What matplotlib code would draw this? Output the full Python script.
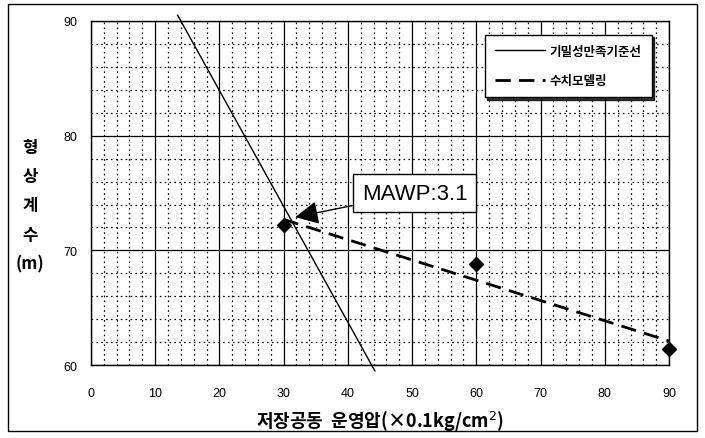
import numpy as np
import matplotlib
matplotlib.use("Agg")
import matplotlib.pyplot as plt
from matplotlib.patches import Rectangle

plt.rcParams['font.family'] = ['Noto Sans CJK KR', 'DejaVu Sans']

# data
ref_x = [13.5, 44.2]          # 기밀성만족기준선
ref_y = [90.5, 59.5]
model_x = [30, 90]            # 수치모델링 (fit)
model_y = [72.7, 62.1]
pts_x = [30, 60, 90]
pts_y = [72.2, 68.8, 61.4]
mawp_xy = (31.8, 72.9)
x_ticks = [0, 10, 20, 30, 40, 50, 60, 70, 80, 90]
y_ticks = [60, 70, 80, 90]

fig = plt.figure(figsize=(7.05, 4.39), dpi=100)
ax = fig.add_axes([0.129, 0.166, 0.820, 0.784])

ax.set_xlim(0, 90)
ax.set_ylim(60, 90)
ax.set_xticks(x_ticks)
ax.set_yticks(y_ticks)
ax.set_xticks(np.arange(0, 91, 2), minor=True)
ax.set_yticks(np.arange(60, 91, 2), minor=True)
ax.grid(which='minor', color='black', linestyle=(0, (1.3, 2.6)), linewidth=0.9)
ax.grid(which='major', color='black', linestyle='-', linewidth=0.9)
ax.tick_params(which='both', length=0)
ax.tick_params(axis='x', pad=16, labelsize=9)
ax.tick_params(axis='y', pad=10, labelsize=9)
for lab in ax.get_xticklabels() + ax.get_yticklabels():
  lab.set_family(['Liberation Sans', 'DejaVu Sans'])
for s in ax.spines.values():
  s.set_linewidth(1.0)

ax.plot(ref_x, ref_y, color='black', linewidth=1.0, clip_on=False,
        label='기밀성만족기준선', zorder=3)
ax.plot(model_x, model_y, color='black', linewidth=2.0,
        linestyle=(0, (5.5, 3)), label='수치모델링', zorder=3)
ax.plot(pts_x, pts_y, linestyle='none', marker='D', markersize=7,
        color='black', clip_on=False, zorder=4)

ax.annotate('MAWP:3.1', xy=mawp_xy, xytext=(50.4, 75.0),
            fontsize=16, family=['Liberation Sans', 'DejaVu Sans'],
            ha='center', va='center',
            bbox=dict(boxstyle='square,pad=0.4', fc='white', ec='black', lw=1),
            arrowprops=dict(arrowstyle='-|>,head_length=0.9,head_width=0.45',
                            color='black', lw=1, shrinkA=0, shrinkB=0),
            zorder=5)

leg = ax.legend(loc='upper right', bbox_to_anchor=(0.97, 0.96),
                prop={'size': 9, 'weight': 'bold'},
                frameon=True, fancybox=False, shadow={'ox': 2, 'oy': -2, 'color': 'black', 'alpha': 0.8},
                handlelength=4.0, labelspacing=1.3, borderpad=0.8,
                borderaxespad=0, handletextpad=0.4)
leg.get_frame().set_edgecolor('black')
leg.get_frame().set_linewidth(1.0)

ax.set_xlabel('저장공동  운영압(×0.1kg/cm$^2$)', fontsize=13, labelpad=7,
              fontweight='bold')
fig.text(0.043, 0.53, '형\n상\n계\n수\n(m)', fontsize=12, ha='center',
         va='center', linespacing=1.8, fontweight='bold')

fig.patches.append(Rectangle((0.011, 0.016), 0.978, 0.972,
                             transform=fig.transFigure, fill=False,
                             edgecolor='black', linewidth=1.0))

plt.savefig('out.png', dpi=100)
